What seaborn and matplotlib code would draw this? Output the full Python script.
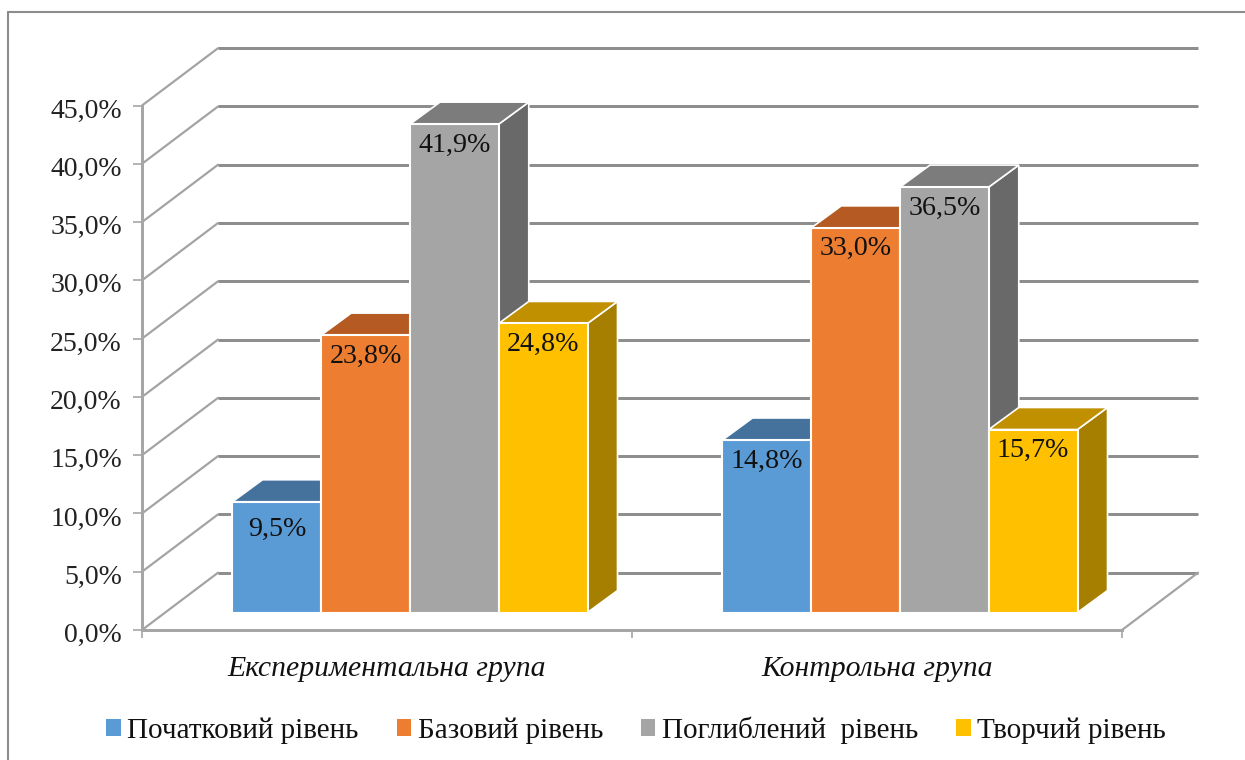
import matplotlib
matplotlib.use("Agg")
import matplotlib.pyplot as plt
from matplotlib.lines import Line2D
from matplotlib.patches import Patch, Polygon
from matplotlib.transforms import ScaledTranslation
import pandas as pd
import seaborn as sns

# Survey results per group and level, in percent
groups = ["Експериментальна група", "Контрольна група"]
levels = ["Початковий рівень", "Базовий рівень", "Поглиблений  рівень", "Творчий рівень"]
experimental = [9.5, 23.8, 41.9, 24.8]
control = [14.8, 33.0, 36.5, 15.7]
colors = ["#5B9BD5", "#ED7D31", "#A5A5A5", "#FFC000"]
top_colors = ["#44729D", "#B55A22", "#7C7C7C", "#C09000"]
side_colors = ["#3A6186", "#9A4F1E", "#696969", "#A67E00"]
y_ticks = [0, 5, 10, 15, 20, 25, 30, 35, 40, 45]

W, H = 1245, 760
PLOT_W, PLOT_H = 980, 524.5        # front plane size in pixels
LEFT, BOTTOM_Y = 142, 630          # front plane origin, pixels from top-left
PX_X = 2 / PLOT_W                  # data units per pixel, horizontal
PX_Y = 45 / PLOT_H                 # data units per pixel, vertical
WALL = (76 * PX_X, 57.3 * PX_Y)    # depth of the chart box
BAR_SHIFT = (23, 17.5)             # bars sit inside the box
BAR_DEPTH = (30 * PX_X, 22 * PX_Y)
GRID_COLOR = "#8E8E8E"
SLANT_COLOR = "#A3A3A3"
px_lw = 72 / 100

sns.set_theme(style="white")
plt.rcParams["font.family"] = ["Liberation Serif", "DejaVu Serif"]
plt.rcParams["text.color"] = "#111111"

fig = plt.figure(figsize=(W / 100, H / 100), dpi=100, facecolor="white")


def axes_at(left_px, bottom_px):
    return fig.add_axes([left_px / W, (H - bottom_px) / H, PLOT_W / W, PLOT_H / H])


# Front plane: axis lines, ticks and the receding grid
ax = axes_at(LEFT, BOTTOM_Y)
ax.set_xlim(-0.5, 1.5)
ax.set_ylim(0, 45)
ax.patch.set_visible(False)
for side in ("top", "right"):
    ax.spines[side].set_visible(False)
for side in ("left", "bottom"):
    ax.spines[side].set_color("#A6A6A6")
    ax.spines[side].set_linewidth(3 * px_lw)
ax.set_yticks(y_ticks)
ax.set_yticklabels([f"{v:.1f}%".replace(".", ",") for v in y_ticks], fontsize=20,
                    va="center_baseline", color="#222222")
ax.set_xticks([-0.5, 0.5, 1.5])
ax.set_xticklabels([])
ax.set_xticks([0, 1], minor=True)
ax.set_xticklabels(groups, minor=True, fontsize=21.4, style="italic", color="#111111")
ax.tick_params(axis="y", length=6.5, width=1.2, color="#A6A6A6", pad=8, left=True)
ax.tick_params(axis="x", which="major", length=6, width=1.2, color="#A6A6A6", bottom=True)
ax.tick_params(axis="x", which="minor", length=0, pad=19)

# Percent labels sit slightly below their tick marks
nudge = ScaledTranslation(0, -2.5 / 100, fig.dpi_scale_trans)
for label in ax.get_yticklabels():
    label.set_transform(label.get_transform() + nudge)

x0, x1 = -0.5, 1.5
for v in y_ticks:
    ax.plot([x0, x0 + WALL[0]], [v, v + WALL[1]], color=SLANT_COLOR, lw=2.2 * px_lw,
            clip_on=False, zorder=1)
    ax.plot([x0 + WALL[0], x1 + WALL[0]], [v + WALL[1]] * 2, color=GRID_COLOR, lw=3 * px_lw,
            clip_on=False, zorder=1, solid_capstyle="butt")
ax.plot([x1, x1 + WALL[0]], [0, WALL[1]], color=SLANT_COLOR, lw=2.2 * px_lw, clip_on=False, zorder=1)

# Bars on an overlaid axes, shifted into the box
bars_ax = axes_at(LEFT + BAR_SHIFT[0], BOTTOM_Y - BAR_SHIFT[1])
bars_ax.patch.set_visible(False)
df = pd.DataFrame({
    "group": [g for g in groups for _ in levels],
    "level": levels * 2,
    "value": experimental + control,
})
sns.barplot(data=df, x="group", y="value", hue="level", order=groups, hue_order=levels,
            palette=colors, saturation=1, width=0.7245, gap=0, edgecolor="white",
            linewidth=1.5, legend=False, ax=bars_ax)
bars_ax.set_xlim(-0.5, 1.5)
bars_ax.set_ylim(0, 45)
bars_ax.axis("off")

# Top and side faces, stacked left to right so nearer bars hide the previous side
dx, dy = BAR_DEPTH
rows = []
for i, container in enumerate(bars_ax.containers):
    for j, patch in enumerate(container.patches):
        rows.append((j, i, patch))
rows.sort(key=lambda r: (r[0], r[1]))
for order, (j, i, patch) in enumerate(rows):
    xa, xb = patch.get_x(), patch.get_x() + patch.get_width()
    h = patch.get_height()
    base = 3 * order + 2
    bars_ax.add_patch(Polygon([(xb, 0), (xb + dx, dy), (xb + dx, h + dy), (xb, h)],
                              facecolor=side_colors[i], edgecolor="white", lw=1.2,
                              zorder=base, clip_on=False))
    bars_ax.add_patch(Polygon([(xa, h), (xa + dx, h + dy), (xb + dx, h + dy), (xb, h)],
                              facecolor=top_colors[i], edgecolor="white", lw=1.2,
                              zorder=base + 1, clip_on=False))
    patch.set_zorder(base + 2)
    patch.set_clip_on(False)
    drop = 28 if h < 10 else 21
    bars_ax.annotate(f"{h:.1f}%".replace(".", ","), (xa + (xb - xa) / 2, h),
                     xytext=(0, -drop * px_lw), textcoords="offset points",
                     ha="center", va="center", fontsize=20.2, color="#111111", zorder=100)

# Legend along the bottom
handles = [Patch(facecolor=c, edgecolor="none", label=l) for c, l in zip(colors, levels)]
fig.legend(handles=handles, loc="center", bbox_to_anchor=(636 / W, (H - 730) / H), ncols=4,
           frameon=False, fontsize=21, handlelength=0.5, handleheight=0.5,
           handletextpad=0.22, columnspacing=1.3)

# Outer chart frame, open at the right and bottom
frame = dict(color="#8C8C8C", lw=1.5, transform=fig.transFigure)
fig.add_artist(Line2D([8 / W, 8 / W], [0, (H - 12) / H], **frame))
fig.add_artist(Line2D([8 / W, 1], [(H - 12) / H] * 2, **frame))

fig.savefig("out.png", dpi=100, facecolor="white")
